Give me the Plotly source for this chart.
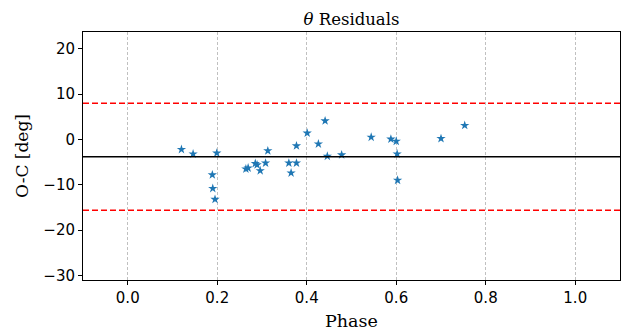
import plotly.graph_objects as go

phase = [0.120, 0.146, 0.199, 0.189, 0.190, 0.195, 0.264, 0.269, 0.285, 0.289,
         0.296, 0.308, 0.313, 0.360, 0.365, 0.377, 0.377, 0.401, 0.441, 0.426,
         0.446, 0.478, 0.544, 0.588, 0.600, 0.602, 0.603, 0.700, 0.753]
residual = [-2.2, -3.2, -3.0, -7.8, -10.8, -13.2, -6.5, -6.3, -5.3, -5.6,
            -6.9, -5.2, -2.5, -5.2, -7.4, -5.2, -1.4, 1.4, 4.1, -1.0,
            -3.7, -3.4, 0.5, 0.07, -0.4, -3.2, -9.0, 0.2, 3.1]
mean_level = -3.8
upper_limit = 8.0
lower_limit = -15.6
x_ticks = [0.0, 0.2, 0.4, 0.6, 0.8, 1.0]
x_tick_labels = ["0.0", "0.2", "0.4", "0.6", "0.8", "1.0"]
y_ticks = [-30, -20, -10, 0, 10, 20]

W, H = 621, 335

fig = go.Figure()
fig.add_trace(go.Scatter(
    x=phase, y=residual, mode="markers",
    marker=dict(symbol="star", size=7, color="#1f77b4", line=dict(width=0)),
    showlegend=False,
))
fig.add_hline(y=mean_level, line=dict(color="black", width=1.6))
fig.add_hline(y=upper_limit, line=dict(color="red", width=1.6, dash="6px,3px"))
fig.add_hline(y=lower_limit, line=dict(color="red", width=1.6, dash="6px,3px"))

fig.update_layout(
    width=W, height=H,
    margin=dict(l=83, r=1, t=32, b=55, autoexpand=False),
    paper_bgcolor="white", plot_bgcolor="white",
    title=dict(text="<i>θ</i> Residuals", x=0.5, xref="paper", xanchor="center",
               y=1 - 19 / H, yref="container", yanchor="middle",
               font=dict(family="DejaVu Serif", size=16.5, color="black")),
    font=dict(family="DejaVu Sans", size=15, color="black"),
)
fig.update_xaxes(
    range=[-0.1, 1.1], tickvals=x_ticks, ticktext=x_tick_labels,
    showgrid=True, gridcolor="#c0c0c0", griddash="3px,2px", gridwidth=1,
    showline=True, linecolor="black", linewidth=1, mirror=True,
    ticks="outside", ticklen=4, tickcolor="black", zeroline=False, automargin=False,
    title=dict(text="Phase", font=dict(family="DejaVu Serif", size=17.5), standoff=8),
)
fig.update_yaxes(
    range=[-31.0, 23.7], tickvals=y_ticks,
    showgrid=False,
    showline=True, linecolor="black", linewidth=1, mirror=True,
    ticks="outside", ticklen=4, tickcolor="black", zeroline=False, automargin=False,
    title=dict(text="O-C [deg]", font=dict(family="DejaVu Serif", size=17), standoff=10),
)
fig.write_html(
    "out.html",
    config={"displayModeBar": False},
    post_script="document.body.style.margin='0';document.documentElement.style.overflow='hidden';",
)
